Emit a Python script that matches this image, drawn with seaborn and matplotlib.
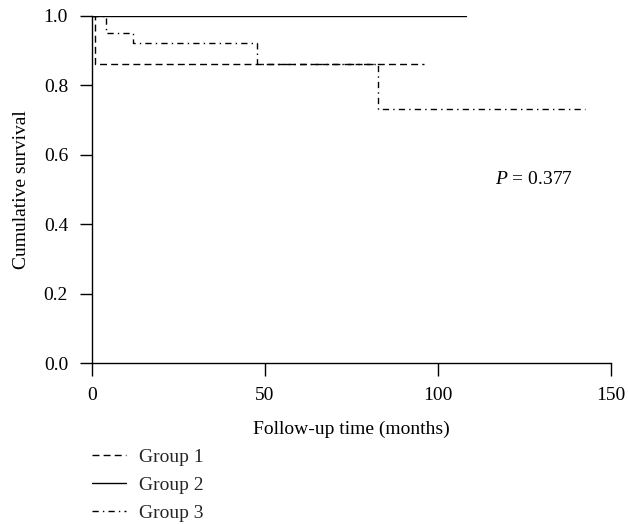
import matplotlib
matplotlib.use("Agg")
import matplotlib.pyplot as plt
import seaborn as sns
import pandas as pd
from matplotlib.lines import Line2D

# Data (Kaplan-Meier step curves)
groups = ["Group 1", "Group 2", "Group 3"]
g1_time = [0, 1.0, 96]
g1_surv = [1.0, 0.860, 0.860]
g2_time = [0, 108]
g2_surv = [1.0, 1.0]
g3_time = [0, 4.1, 11.9, 47.8, 82.8, 142.5]
g3_surv = [1.0, 0.951, 0.921, 0.860, 0.731, 0.731]
x_ticks = [0, 50, 100, 150]
y_ticks = [0.0, 0.2, 0.4, 0.6, 0.8, 1.0]
p_text = "0.377"

sns.set_theme(style="ticks")
plt.rcParams['font.family'] = ['Liberation Serif', 'DejaVu Serif']
plt.rcParams['mathtext.fontset'] = 'custom'
plt.rcParams['mathtext.it'] = 'Liberation Serif:italic'
plt.rcParams['mathtext.rm'] = 'Liberation Serif'

FS = 14

frames = []
for name, t, s in [("Group 1", g1_time, g1_surv), ("Group 2", g2_time, g2_surv), ("Group 3", g3_time, g3_surv)]:
    frames.append(pd.DataFrame({"time": t, "surv": s, "group": name}))
df = pd.concat(frames, ignore_index=True)

fig = plt.figure(figsize=(6.28, 5.24), dpi=100)
ax = fig.add_axes([91.7 / 628, 1 - 363.0 / 524, (611 - 91.7) / 628, (363.0 - 15.7) / 524])

styles = {
    "Group 1": (0, (5, 3)),
    "Group 2": "-",
    "Group 3": (0, (4.5, 3.0, 1.0, 3.0)),
}
handles = []
for name in groups:
    sub = df[df["group"] == name]
    sns.lineplot(data=sub, x="time", y="surv", ax=ax, drawstyle="steps-post",
                 color="black", linewidth=1.0, linestyle=styles[name], estimator=None,
                 sort=False, legend=False)
    handles.append(Line2D([0], [0], color="black", linewidth=1.0, linestyle=styles[name]))

ax.set_xlim(0, 150)
ax.set_ylim(0, 1.0)
ax.set_xticks(x_ticks)
ax.set_xticklabels([str(v) for v in x_ticks])
ax.set_yticks(y_ticks)
ax.set_yticklabels([f"{v:.1f}" for v in y_ticks])
ax.tick_params(axis="both", direction="out", length=9, width=1.0, color="black",
               labelsize=FS, labelcolor="black", pad=8)
for side in ["top", "right"]:
    ax.spines[side].set_visible(False)
for side in ["left", "bottom"]:
    ax.spines[side].set_color("black")
    ax.spines[side].set_linewidth(1.0)
ax.set_facecolor("white")
ax.set_xlabel("Follow-up time (months)", fontsize=FS, color="black", labelpad=12)
ax.set_ylabel("Cumulative survival", fontsize=FS, color="black", labelpad=10)

ax.text(116.5, 0.527, r"$P$ = " + p_text, fontsize=FS, color="black", ha="left", va="center")

fig.legend(handles, groups, loc="upper left", bbox_to_anchor=(92 / 628, 1 - 448 / 524),
           frameon=False, fontsize=FS, handlelength=1.75, handletextpad=0.67,
           labelspacing=0.55, borderpad=0, borderaxespad=0)

fig.savefig("out.png", dpi=100, facecolor="white")
